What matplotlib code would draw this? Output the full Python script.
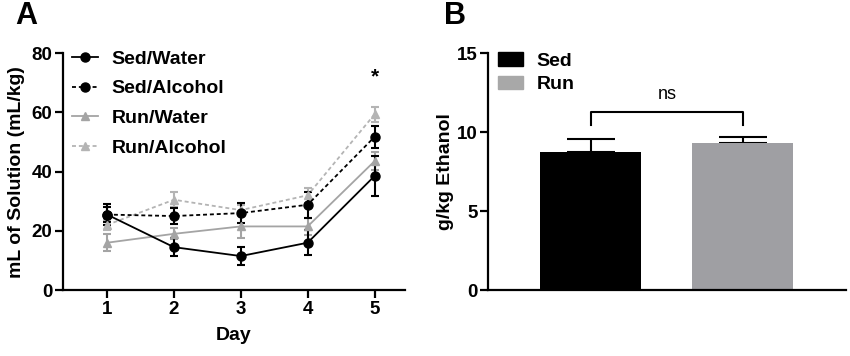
import numpy as np
import matplotlib
matplotlib.use("Agg")
import matplotlib.pyplot as plt
from matplotlib.lines import Line2D
from matplotlib.patches import Patch

plt.rcParams['font.family'] = ['Liberation Sans', 'DejaVu Sans']
plt.rcParams['font.weight'] = 'bold'
plt.rcParams['axes.labelweight'] = 'bold'

# panel A data: mean and SEM per day
days = [1, 2, 3, 4, 5]
sed_water = [25.5, 14.5, 11.5, 16.0, 38.5]
sed_water_err = [3.5, 3.0, 3.0, 4.3, 6.7]
sed_alc = [25.5, 25.0, 26.0, 28.8, 51.7]
sed_alc_err = [2.5, 2.8, 3.3, 4.3, 3.7]
run_water = [16.0, 19.0, 21.5, 21.5, 43.5]
run_water_err = [2.8, 1.8, 4.0, 3.0, 3.0]
run_alc = [22.0, 30.5, 27.0, 32.0, 59.3]
run_alc_err = [1.8, 2.5, 1.8, 2.5, 2.6]

# panel B data
groups = ['Sed', 'Run']
ethanol = [8.75, 9.28]
ethanol_err = [0.82, 0.42]

fig = plt.figure(figsize=(8.5, 3.56), dpi=100)
axA = fig.add_axes([0.074, 0.185, 0.402, 0.666])
axB = fig.add_axes([0.574, 0.185, 0.421, 0.666])

grey1 = '#a4a4a4'
grey2 = '#b4b4b4'
dash = (0, (2.2, 1.6))
series = [
    ('Sed/Water', sed_water, sed_water_err, 'black', '-', 'o', 6.5),
    ('Sed/Alcohol', sed_alc, sed_alc_err, 'black', dash, 'o', 6.5),
    ('Run/Water', run_water, run_water_err, grey1, '-', '^', 5.5),
    ('Run/Alcohol', run_alc, run_alc_err, grey2, dash, '^', 5.5),
]
for lab, y, e, c, ls, m, ms in reversed(series):
    axA.errorbar(days, y, yerr=e, color=c, ls=ls, marker=m, ms=ms, lw=1.3,
                 elinewidth=1.5, capsize=3, capthick=1.5)

axA.set_xlim(0.34, 5.45)
axA.set_ylim(0, 80)
axA.set_xticks(days)
axA.set_yticks([0, 20, 40, 60, 80])
axA.set_xlabel('Day', fontsize=14, labelpad=7)
axA.set_ylabel('mL of Solution (mL/kg)', fontsize=14, labelpad=5)
axA.text(5, 72, '*', ha='center', va='center', fontsize=15)
handles = [Line2D([], [], color=c, ls=ls, marker=m, ms=ms, lw=1.3)
           for lab, y, e, c, ls, m, ms in series]
axA.legend(handles, [s[0] for s in series], loc='upper left',
           bbox_to_anchor=(0.026, 1.012), frameon=False, fontsize=14,
           handlelength=1.35, handletextpad=0.7, labelspacing=0.62,
           borderpad=0, borderaxespad=0)

x = np.arange(len(groups))
bar_colors = ['black', '#9f9fa3']
axB.bar(x, ethanol, width=0.665, color=bar_colors, zorder=2)
for xi, v, e in zip(x, ethanol, ethanol_err):
    axB.errorbar([xi], [v], yerr=[[0], [e]], color='black', elinewidth=1.5,
                 capsize=17, capthick=1.5, zorder=1, fmt='none')
axB.set_xlim(-0.678, 1.678)
axB.set_ylim(0, 15)
axB.set_yticks([0, 5, 10, 15])
axB.set_xticks([])
axB.set_ylabel('g/kg Ethanol', fontsize=14, labelpad=2)
axB.plot([0, 0, 1, 1], [10.45, 11.25, 11.25, 10.45], color='black', lw=1.5)
axB.text(0.5, 12.4, 'ns', ha='center', va='center', fontsize=13,
         fontweight='normal')
axB.legend([Patch(color=c) for c in ['black', '#a8a8a8']], groups,
           loc='upper left', bbox_to_anchor=(0.028, 1.003), frameon=False,
           fontsize=14, handlelength=1.3, handletextpad=0.7,
           labelspacing=0.3, borderpad=0, borderaxespad=0)

for ax in (axA, axB):
    for s in ('top', 'right'):
        ax.spines[s].set_visible(False)
    for s in ('left', 'bottom'):
        ax.spines[s].set_linewidth(1.6)
    ax.tick_params(width=1.6, length=5.5, pad=2, labelsize=13.5)
    for t in ax.get_xticklabels() + ax.get_yticklabels():
        t.set_fontweight('bold')

fig.text(0.018, 0.955, 'A', fontsize=22, fontweight='bold', va='center')
fig.text(0.522, 0.955, 'B', fontsize=22, fontweight='bold', va='center')

fig.savefig('out.png', dpi=100)
